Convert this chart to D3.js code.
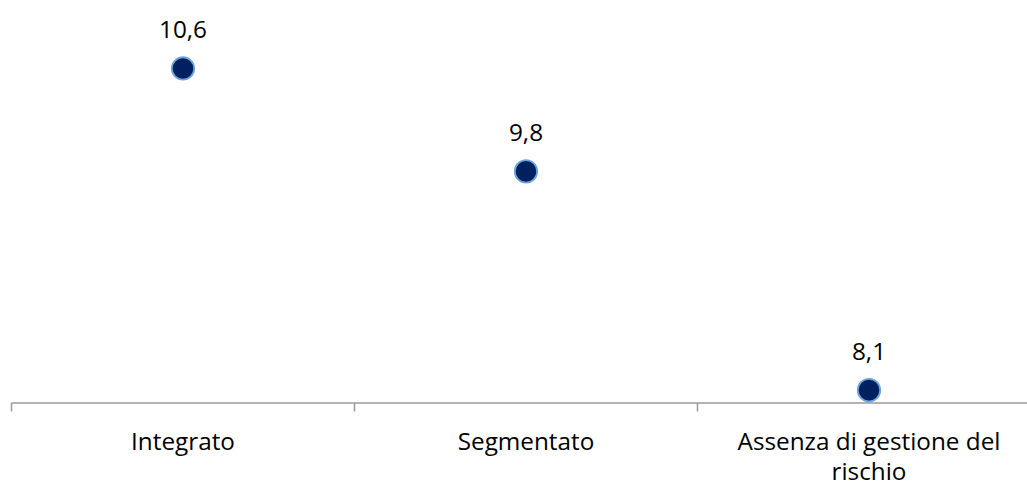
<!DOCTYPE html>
<html>
<head>
<meta charset="utf-8">
<script src="https://cdn.jsdelivr.net/npm/d3@7"></script>
<style>
  html, body { margin: 0; padding: 0; background: #ffffff; }
  svg { display: block; }
  text { font-family: "Open Sans", "Noto Sans", sans-serif; fill: #000; }
</style>
</head>
<body>
<svg id="chart" width="1027" height="486"></svg>
<script>
// Risk-management approach categories and their values
const categories = ["Integrato", "Segmentato", "Assenza di gestione del rischio"];
const values = [10.6, 9.8, 8.1];
const valueLabels = ["10,6", "9,8", "8,1"];
const yDomain = [8, 11];

const width = 1027, height = 486;
const fontSize = "24.3px";
const svg = d3.select("#chart");

const x = d3.scaleBand()
  .domain(categories)
  .range([11.5, 1040.5])
  .paddingInner(0)
  .paddingOuter(0);

const y = d3.scaleLinear()
  .domain(yDomain)
  .range([403, 17]);

// Category axis with ticks on band boundaries
const axisG = svg.append("g").attr("transform", `translate(0,${y(yDomain[0])})`);
axisG.append("line")
  .attr("x1", x.range()[0]).attr("x2", x.range()[1])
  .attr("y1", 0).attr("y2", 0)
  .attr("stroke", "#9a9a9a").attr("stroke-width", 1.5);
const boundaries = categories.map(c => x(c)).concat([x.range()[1]]);
axisG.selectAll("line.tick")
  .data(boundaries)
  .join("line")
  .attr("class", "tick")
  .attr("x1", d => d).attr("x2", d => d)
  .attr("y1", 0).attr("y2", 8.5)
  .attr("stroke", "#9a9a9a").attr("stroke-width", 1.5);

// Category labels, wrapped to the band width
function wrap(sel, maxWidth, lineHeight) {
  sel.each(function() {
    const t = d3.select(this);
    const words = t.text().split(/\s+/);
    const xPos = t.attr("x");
    t.text(null);
    let line = [];
    let tspan = t.append("tspan").attr("x", xPos).attr("dy", 0);
    for (const w of words) {
      line.push(w);
      tspan.text(line.join(" "));
      if (tspan.node().getComputedTextLength() > maxWidth && line.length > 1) {
        line.pop();
        tspan.text(line.join(" "));
        line = [w];
        tspan = t.append("tspan").attr("x", xPos).attr("dy", lineHeight).text(w);
      }
    }
  });
}

svg.append("g")
  .selectAll("text")
  .data(categories)
  .join("text")
  .attr("x", d => x(d) + x.bandwidth() / 2)
  .attr("y", 449.5)
  .attr("text-anchor", "middle")
  .style("font-size", fontSize)
  .text(d => d)
  .call(wrap, 310, 30);

// Data points
const pts = categories.map((c, i) => ({ c, v: values[i], label: valueLabels[i] }));

svg.append("g")
  .selectAll("circle")
  .data(pts)
  .join("circle")
  .attr("cx", d => x(d.c) + x.bandwidth() / 2)
  .attr("cy", d => y(d.v))
  .attr("r", 11.2)
  .attr("fill", "#002060")
  .attr("stroke", "#6aa6dd")
  .attr("stroke-width", 1.8);

// Value labels above each point
svg.append("g")
  .selectAll("text")
  .data(pts)
  .join("text")
  .attr("x", d => x(d.c) + x.bandwidth() / 2)
  .attr("y", d => y(d.v) - 30)
  .attr("text-anchor", "middle")
  .style("font-size", fontSize)
  .text(d => d.label);
</script>
</body>
</html>
